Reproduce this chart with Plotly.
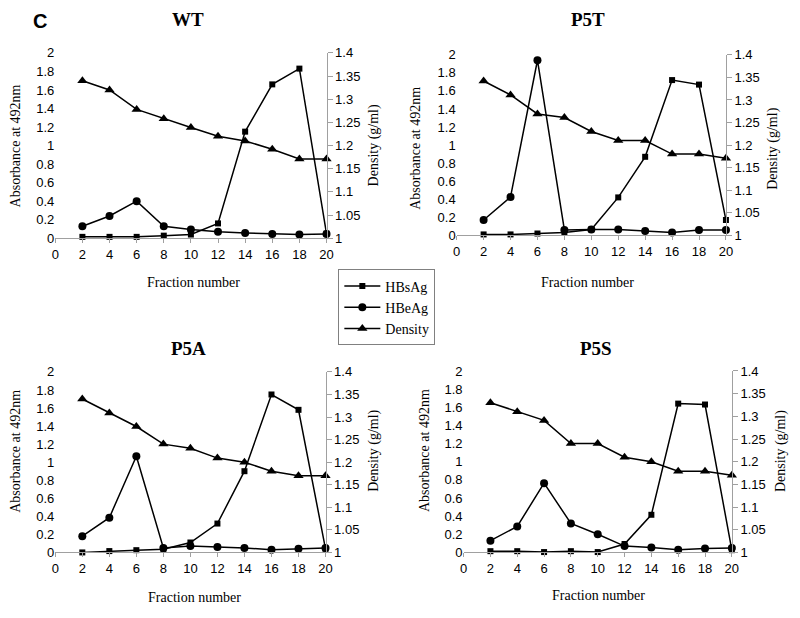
import plotly.graph_objects as go

fractions = [2, 4, 6, 8, 10, 12, 14, 16, 18, 20]
panels = ["WT", "P5T", "P5A", "P5S"]

hbsag = {
    "WT":  [0.015, 0.015, 0.015, 0.028, 0.04, 0.16, 1.15, 1.66, 1.83, 0.05],
    "P5T": [0.01, 0.01, 0.02, 0.03, 0.065, 0.42, 0.87, 1.72, 1.67, 0.17],
    "P5A": [0.0, 0.015, 0.025, 0.035, 0.11, 0.32, 0.90, 1.75, 1.58, 0.04],
    "P5S": [0.014, 0.014, 0.004, 0.014, 0.004, 0.093, 0.415, 1.64, 1.63, 0.025],
}
hbeag = {
    "WT":  [0.13, 0.24, 0.40, 0.13, 0.095, 0.07, 0.056, 0.046, 0.04, 0.046],
    "P5T": [0.17, 0.425, 1.94, 0.06, 0.065, 0.065, 0.047, 0.03, 0.058, 0.058],
    "P5A": [0.18, 0.385, 1.065, 0.05, 0.07, 0.06, 0.05, 0.03, 0.04, 0.05],
    "P5S": [0.13, 0.287, 0.763, 0.32, 0.20, 0.07, 0.054, 0.03, 0.043, 0.05],
}
density = {
    "WT":  [1.34, 1.32, 1.278, 1.258, 1.239, 1.22, 1.21, 1.192, 1.171, 1.171],
    "P5T": [1.342, 1.311, 1.269, 1.261, 1.23, 1.21, 1.21, 1.18, 1.18, 1.171],
    "P5A": [1.34, 1.309, 1.279, 1.24, 1.231, 1.209, 1.20, 1.18, 1.17, 1.17],
    "P5S": [1.33, 1.31, 1.291, 1.24, 1.24, 1.21, 1.20, 1.179, 1.179, 1.17],
}

x_ticks = list(range(0, 21, 2))
left_ticks = [0, 0.2, 0.4, 0.6, 0.8, 1, 1.2, 1.4, 1.6, 1.8, 2]
left_labels = ["0", "0.2", "0.4", "0.6", "0.8", "1", "1.2", "1.4", "1.6", "1.8", "2"]
right_ticks = [1, 1.05, 1.1, 1.15, 1.2, 1.25, 1.3, 1.35, 1.4]
right_labels = ["1", "1.05", "1.1", "1.15", "1.2", "1.25", "1.3", "1.35", "1.4"]

W, H = 800, 618
# plot-area pixel boxes: (x0, x1, ytop, ybottom)
boxes = {
    "WT":  (52, 327, 47, 237),
    "P5T": (459, 732, 49, 234),
    "P5A": (52, 326, 374, 559),
    "P5S": (466, 738, 373, 559),
}
# text positions (pixels)
title_pos = {"WT": (187, 13), "P5T": (592, 13), "P5A": (187, 350), "P5S": (600, 350)}
xtitle_pos = {"WT": (192, 282), "P5T": (592, 282), "P5A": (193, 605), "P5S": (603, 603)}
ltitle_pos = {"WT": (12, 142), "P5T": (417, 145), "P5A": (12, 455), "P5S": (427, 455)}
rtitle_pos = {"WT": (375, 142), "P5T": (780, 145), "P5A": (375, 455), "P5S": (788, 455)}

SERIF = "Liberation Serif"
SANS = "Liberation Sans"
GREY = "#a0a0a0"

fig = go.Figure()
layout = {}
annotations = []

def px(x):
    return x / W

def py(y):
    return 1 - y / H

for i, name in enumerate(panels):
    n = i + 1
    xa = "x" if n == 1 else f"x{n}"
    ya_l = "y" if n == 1 else f"y{2 * n - 1}"
    ya_r = f"y{2 * n}"
    x0, x1, yt, yb = boxes[name]

    layout["xaxis" if n == 1 else f"xaxis{n}"] = dict(
        domain=[px(x0), px(x1)], range=[0, 20], anchor=ya_l,
        tickvals=x_ticks, ticktext=[str(v) for v in x_ticks],
        showgrid=False, zeroline=False, showline=True, linecolor=GREY, linewidth=1,
        ticks="outside", ticklen=4, tickcolor=GREY,
        tickfont=dict(family=SANS, size=13, color="black"),
    )
    layout["yaxis" if n == 1 else f"yaxis{2 * n - 1}"] = dict(
        domain=[py(yb), py(yt)], range=[0, 2], anchor=xa,
        tickvals=left_ticks, ticktext=left_labels,
        showgrid=False, zeroline=False, showline=False, ticks="",
        tickfont=dict(family=SANS, size=13, color="black"),
    )
    layout[f"yaxis{2 * n}"] = dict(
        domain=[py(yb), py(yt)], range=[1, 1.4], anchor=xa, overlaying=ya_l, side="right",
        tickvals=right_ticks, ticktext=right_labels,
        showgrid=False, zeroline=False, showline=True, linecolor=GREY, linewidth=1,
        ticks="outside", ticklen=5, tickcolor=GREY,
        tickfont=dict(family=SANS, size=13, color="black"),
    )

    show = n == 1
    fig.add_trace(go.Scatter(
        x=fractions, y=hbsag[name], xaxis=xa, yaxis=ya_l, name="HBsAg",
        mode="lines+markers", line=dict(color="black", width=1.5),
        marker=dict(symbol="square", size=6, color="black"),
        showlegend=show, cliponaxis=False, legendrank=1,
    ))
    fig.add_trace(go.Scatter(
        x=fractions, y=hbeag[name], xaxis=xa, yaxis=ya_l, name="HBeAg",
        mode="lines+markers", line=dict(color="black", width=1.5),
        marker=dict(symbol="circle", size=8, color="black"),
        showlegend=show, cliponaxis=False, legendrank=2,
    ))
    fig.add_trace(go.Scatter(
        x=fractions, y=density[name], xaxis=xa, yaxis=ya_r, name="Density",
        mode="lines+markers", line=dict(color="black", width=1.5),
        marker=dict(symbol="triangle-up", size=9, color="black"),
        showlegend=show, cliponaxis=False, legendrank=3,
    ))

    tx, ty = title_pos[name]
    annotations.append(dict(text=f"<b>{name}</b>", x=px(tx), y=py(ty), xref="paper", yref="paper",
                            showarrow=False, xanchor="center", yanchor="middle",
                            font=dict(family=SERIF, size=19, color="black")))
    tx, ty = xtitle_pos[name]
    annotations.append(dict(text="Fraction number", x=px(tx), y=py(ty), xref="paper", yref="paper",
                            showarrow=False, xanchor="center", yanchor="middle",
                            font=dict(family=SERIF, size=14, color="black")))
    tx, ty = ltitle_pos[name]
    annotations.append(dict(text="Absorbance at 492nm", x=px(tx), y=py(ty), xref="paper", yref="paper",
                            showarrow=False, xanchor="center", yanchor="middle", textangle=-90,
                            font=dict(family=SERIF, size=14, color="black")))
    tx, ty = rtitle_pos[name]
    annotations.append(dict(text="Density (g/ml)", x=px(tx), y=py(ty), xref="paper", yref="paper",
                            showarrow=False, xanchor="center", yanchor="middle", textangle=-90,
                            font=dict(family=SERIF, size=14, color="black")))

annotations.append(dict(text="<b>C</b>", x=px(37), y=py(14), xref="paper", yref="paper",
                        showarrow=False, xanchor="center", yanchor="middle",
                        font=dict(family=SANS, size=20, color="black")))

fig.update_layout(
    width=W, height=H,
    margin=dict(l=0, r=0, t=0, b=0),
    paper_bgcolor="white", plot_bgcolor="rgba(0,0,0,0)",
    annotations=annotations,
    showlegend=True,
    legend=dict(x=px(339), y=py(269), xanchor="left", yanchor="top",
                bordercolor="#808080", borderwidth=1, bgcolor="white",
                font=dict(family=SERIF, size=14, color="black"),
                tracegroupgap=0, itemwidth=36),
    **layout,
)

fig.write_html("out.html", config={"displayModeBar": False},
               post_script="document.body.style.margin='0';")
